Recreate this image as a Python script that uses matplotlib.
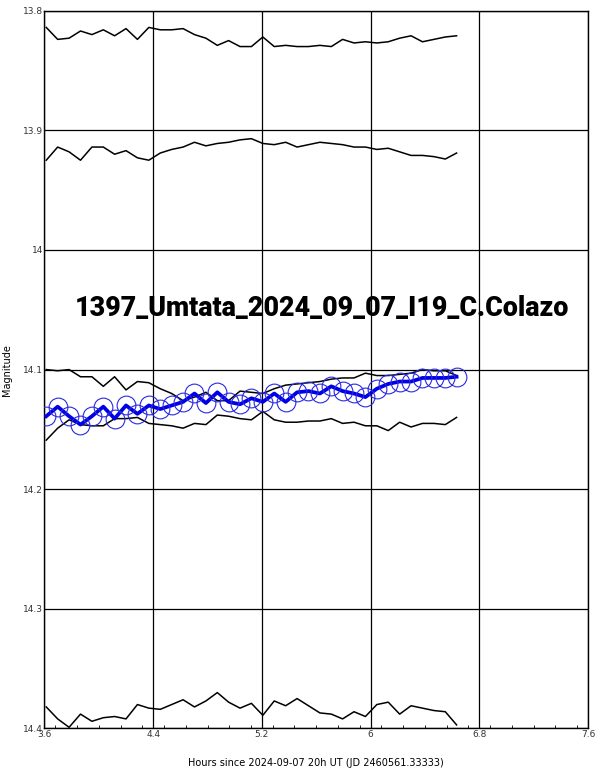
import matplotlib
matplotlib.use("Agg")
import matplotlib.pyplot as plt
from matplotlib.ticker import MultipleLocator

# Hours since 2024-09-07 20h UT
hours = [3.613, 3.697, 3.781, 3.865, 3.949, 4.033, 4.116, 4.200, 4.284, 4.368,
         4.452, 4.536, 4.620, 4.704, 4.788, 4.872, 4.955, 5.039, 5.123, 5.207,
         5.291, 5.375, 5.459, 5.543, 5.627, 5.711, 5.794, 5.878, 5.962, 6.046,
         6.130, 6.214, 6.298, 6.382, 6.466, 6.550, 6.633]

# target star (blue)
target = [14.139, 14.131, 14.139, 14.146, 14.139, 14.131, 14.141, 14.130, 14.137, 14.130,
          14.133, 14.130, 14.127, 14.120, 14.128, 14.119, 14.127, 14.129, 14.124, 14.127,
          14.120, 14.127, 14.119, 14.118, 14.120, 14.114, 14.118, 14.120, 14.123, 14.116,
          14.112, 14.110, 14.110, 14.107, 14.107, 14.107, 14.106]

# comparison stars (black)
comp1 = [13.814, 13.824, 13.823, 13.817, 13.820, 13.816, 13.821, 13.815, 13.824, 13.814,
         13.816, 13.816, 13.815, 13.820, 13.823, 13.829, 13.825, 13.830, 13.830, 13.822,
         13.830, 13.829, 13.830, 13.830, 13.829, 13.830, 13.824, 13.827, 13.826, 13.827,
         13.826, 13.823, 13.821, 13.826, 13.824, 13.822, 13.821]
comp2 = [13.925, 13.914, 13.918, 13.925, 13.914, 13.914, 13.920, 13.917, 13.923, 13.925,
         13.919, 13.916, 13.914, 13.910, 13.913, 13.911, 13.910, 13.908, 13.907, 13.911,
         13.912, 13.910, 13.914, 13.912, 13.910, 13.911, 13.912, 13.914, 13.914, 13.916,
         13.915, 13.918, 13.921, 13.921, 13.922, 13.924, 13.919]
comp3 = [14.100, 14.101, 14.100, 14.106, 14.106, 14.114, 14.106, 14.117, 14.110, 14.111,
         14.116, 14.120, 14.126, 14.123, 14.119, 14.126, 14.126, 14.118, 14.119, 14.120,
         14.116, 14.113, 14.112, 14.111, 14.110, 14.108, 14.107, 14.107, 14.103, 14.105,
         14.105, 14.104, 14.103, 14.100, 14.101, 14.101, 14.105]
comp4 = [14.159, 14.149, 14.142, 14.146, 14.147, 14.147, 14.141, 14.141, 14.140, 14.145,
         14.146, 14.147, 14.149, 14.145, 14.146, 14.138, 14.139, 14.141, 14.142, 14.135,
         14.142, 14.144, 14.144, 14.143, 14.143, 14.141, 14.145, 14.144, 14.147, 14.147,
         14.151, 14.144, 14.148, 14.145, 14.145, 14.146, 14.140]
comp5 = [14.382, 14.392, 14.399, 14.388, 14.394, 14.391, 14.390, 14.392, 14.380, 14.383,
         14.384, 14.380, 14.376, 14.382, 14.377, 14.370, 14.378, 14.383, 14.379, 14.389,
         14.377, 14.381, 14.375, 14.381, 14.387, 14.388, 14.392, 14.386, 14.390, 14.380,
         14.378, 14.388, 14.381, 14.383, 14.385, 14.386, 14.397]

title = "1397_Umtata_2024_09_07_I19_C.Colazo"

fig = plt.figure(figsize=(6.02, 7.73), dpi=100)
ax = fig.add_axes([0.0739, 0.0576, 0.9028, 0.9286])

for comp in (comp1, comp2, comp3, comp4, comp5):
    ax.plot(hours, comp, color='black', linewidth=1.1, zorder=3)

ax.plot(hours, target, color='#0000e6', linewidth=2.7, zorder=4)
ax.plot(hours, target, linestyle='none', marker='o', markersize=13.5,
        markerfacecolor='none', markeredgecolor='#2a2ae0', markeredgewidth=0.8, zorder=5)

ax.set_xlim(3.6, 7.6)
ax.set_ylim(14.4, 13.8)
ax.xaxis.set_minor_locator(MultipleLocator(0.16))
ax.set_xticks([3.6, 4.4, 5.2, 6.0, 6.8, 7.6])
ax.set_xticklabels(['3.6', '4.4', '5.2', '6', '6.8', '7.6'])
ax.set_yticks([13.8, 13.9, 14.0, 14.1, 14.2, 14.3, 14.4])
ax.set_yticklabels(['13.8', '13.9', '14', '14.1', '14.2', '14.3', '14.4'])
ax.grid(which='major', axis='both', color='black', linewidth=0.9)
ax.tick_params(which='major', length=0, labelsize=6.5, labelcolor='#333333', pad=1)
ax.tick_params(which='minor', axis='x', direction='in', length=2.5, width=0.6)
ax.tick_params(which='minor', axis='y', length=0)
for s in ax.spines.values():
    s.set_linewidth(1.0)

ax.set_xlabel('Hours since 2024-09-07 20h UT (JD 2460561.33333)', fontsize=7)
ax.xaxis.set_label_coords(0.5, -0.041)
ax.set_ylabel('Magnitude', fontsize=7)
ax.yaxis.set_label_coords(-0.06, 0.5)

# big title inside the plot, sized to fit the reference width (~495 px)
t = ax.text(0.51, 0.585, title, transform=ax.transAxes, ha='center', va='center',
            fontsize=25, fontweight='black', family=['Roboto', 'DejaVu Sans'],
            color='black', zorder=6)
fig.canvas.draw()
w = t.get_window_extent().width
t.set_fontsize(25 * 495.0 / w)

plt.savefig("out.png", dpi=100)
